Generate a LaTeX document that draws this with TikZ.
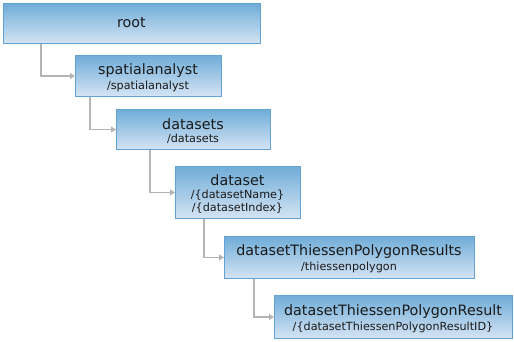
\documentclass[tikz,border=0pt]{standalone}
\usepackage{fontspec}
\setmainfont{DejaVu Sans}
\usetikzlibrary{arrows.meta}
\definecolor{boxtop}{HTML}{70ADD8}
\definecolor{boxbot}{HTML}{D5E4F4}
\definecolor{boxline}{HTML}{62A3D3}
\definecolor{connc}{HTML}{B4B4B4}
\definecolor{txt}{HTML}{1A1A1A}
\newcommand{\ttl}{\fontsize{14.3}{16}\selectfont}
\newcommand{\sbt}{\fontsize{11.2}{13}\selectfont}
\tikzset{
  box/.style={draw=boxline, line width=1pt, top color=boxtop, bottom color=boxbot,
    rectangle, inner sep=0pt, anchor=north west},
  ttlnode/.style={inner sep=0pt, text=txt, font=\ttl},
  sbtnode/.style={inner sep=0pt, text=txt, font=\sbt},
  conn/.style={draw=connc, line width=1.8pt, -{Triangle[length=5pt,width=6pt]}}
}
\begin{document}
\begin{tikzpicture}[x=1pt,y=-1pt]
\useasboundingbox (0,0) rectangle (514,341);
% boxes
\node[box, minimum width=257pt, minimum height=40pt] (root) at (3,3) {};
\node[box, minimum width=146pt, minimum height=41pt] (sa) at (75,55) {};
\node[box, minimum width=154pt, minimum height=40pt] (ds) at (116,109) {};
\node[box, minimum width=125pt, minimum height=52pt] (d) at (175,166) {};
\node[box, minimum width=250pt, minimum height=42pt] (rs) at (224,236) {};
\node[box, minimum width=238pt, minimum height=43pt] (r) at (274,295) {};
% texts
\node[ttlnode] (root-t) at (131.5,23) {root};
\node[ttlnode] (sa-t) at (148,71) {spatialanalyst};
\node[sbtnode] (sa-s) at (148,86) {/spatialanalyst};
\node[ttlnode] (ds-t) at (193,124) {datasets};
\node[sbtnode] (ds-s) at (193,139) {/datasets};
\node[ttlnode] (d-t) at (237.5,180) {dataset};
\node[sbtnode] (d-s1) at (237.5,195) {/\{datasetName\}};
\node[sbtnode] (d-s2) at (237.5,208) {/\{datasetIndex\}};
\node[ttlnode] (rs-t) at (349,252) {datasetThiessenPolygonResults};
\node[sbtnode] (rs-s) at (349,267) {/thiessenpolygon};
\node[ttlnode] (r-t) at (393,312) {datasetThiessenPolygonResult};
\node[sbtnode] (r-s) at (393,327) {/\{datasetThiessenPolygonResultID\}};
% connectors
\draw[conn] ([xshift=38pt]root.south west) |- (sa.west);
\draw[conn] ([xshift=15pt]sa.south west) |- (ds.west);
\draw[conn] ([xshift=34pt]ds.south west) |- (d.west);
\draw[conn] ([xshift=29pt]d.south west) |- (rs.west);
\draw[conn] ([xshift=30pt]rs.south west) |- (r.west);
\end{tikzpicture}
\end{document}
